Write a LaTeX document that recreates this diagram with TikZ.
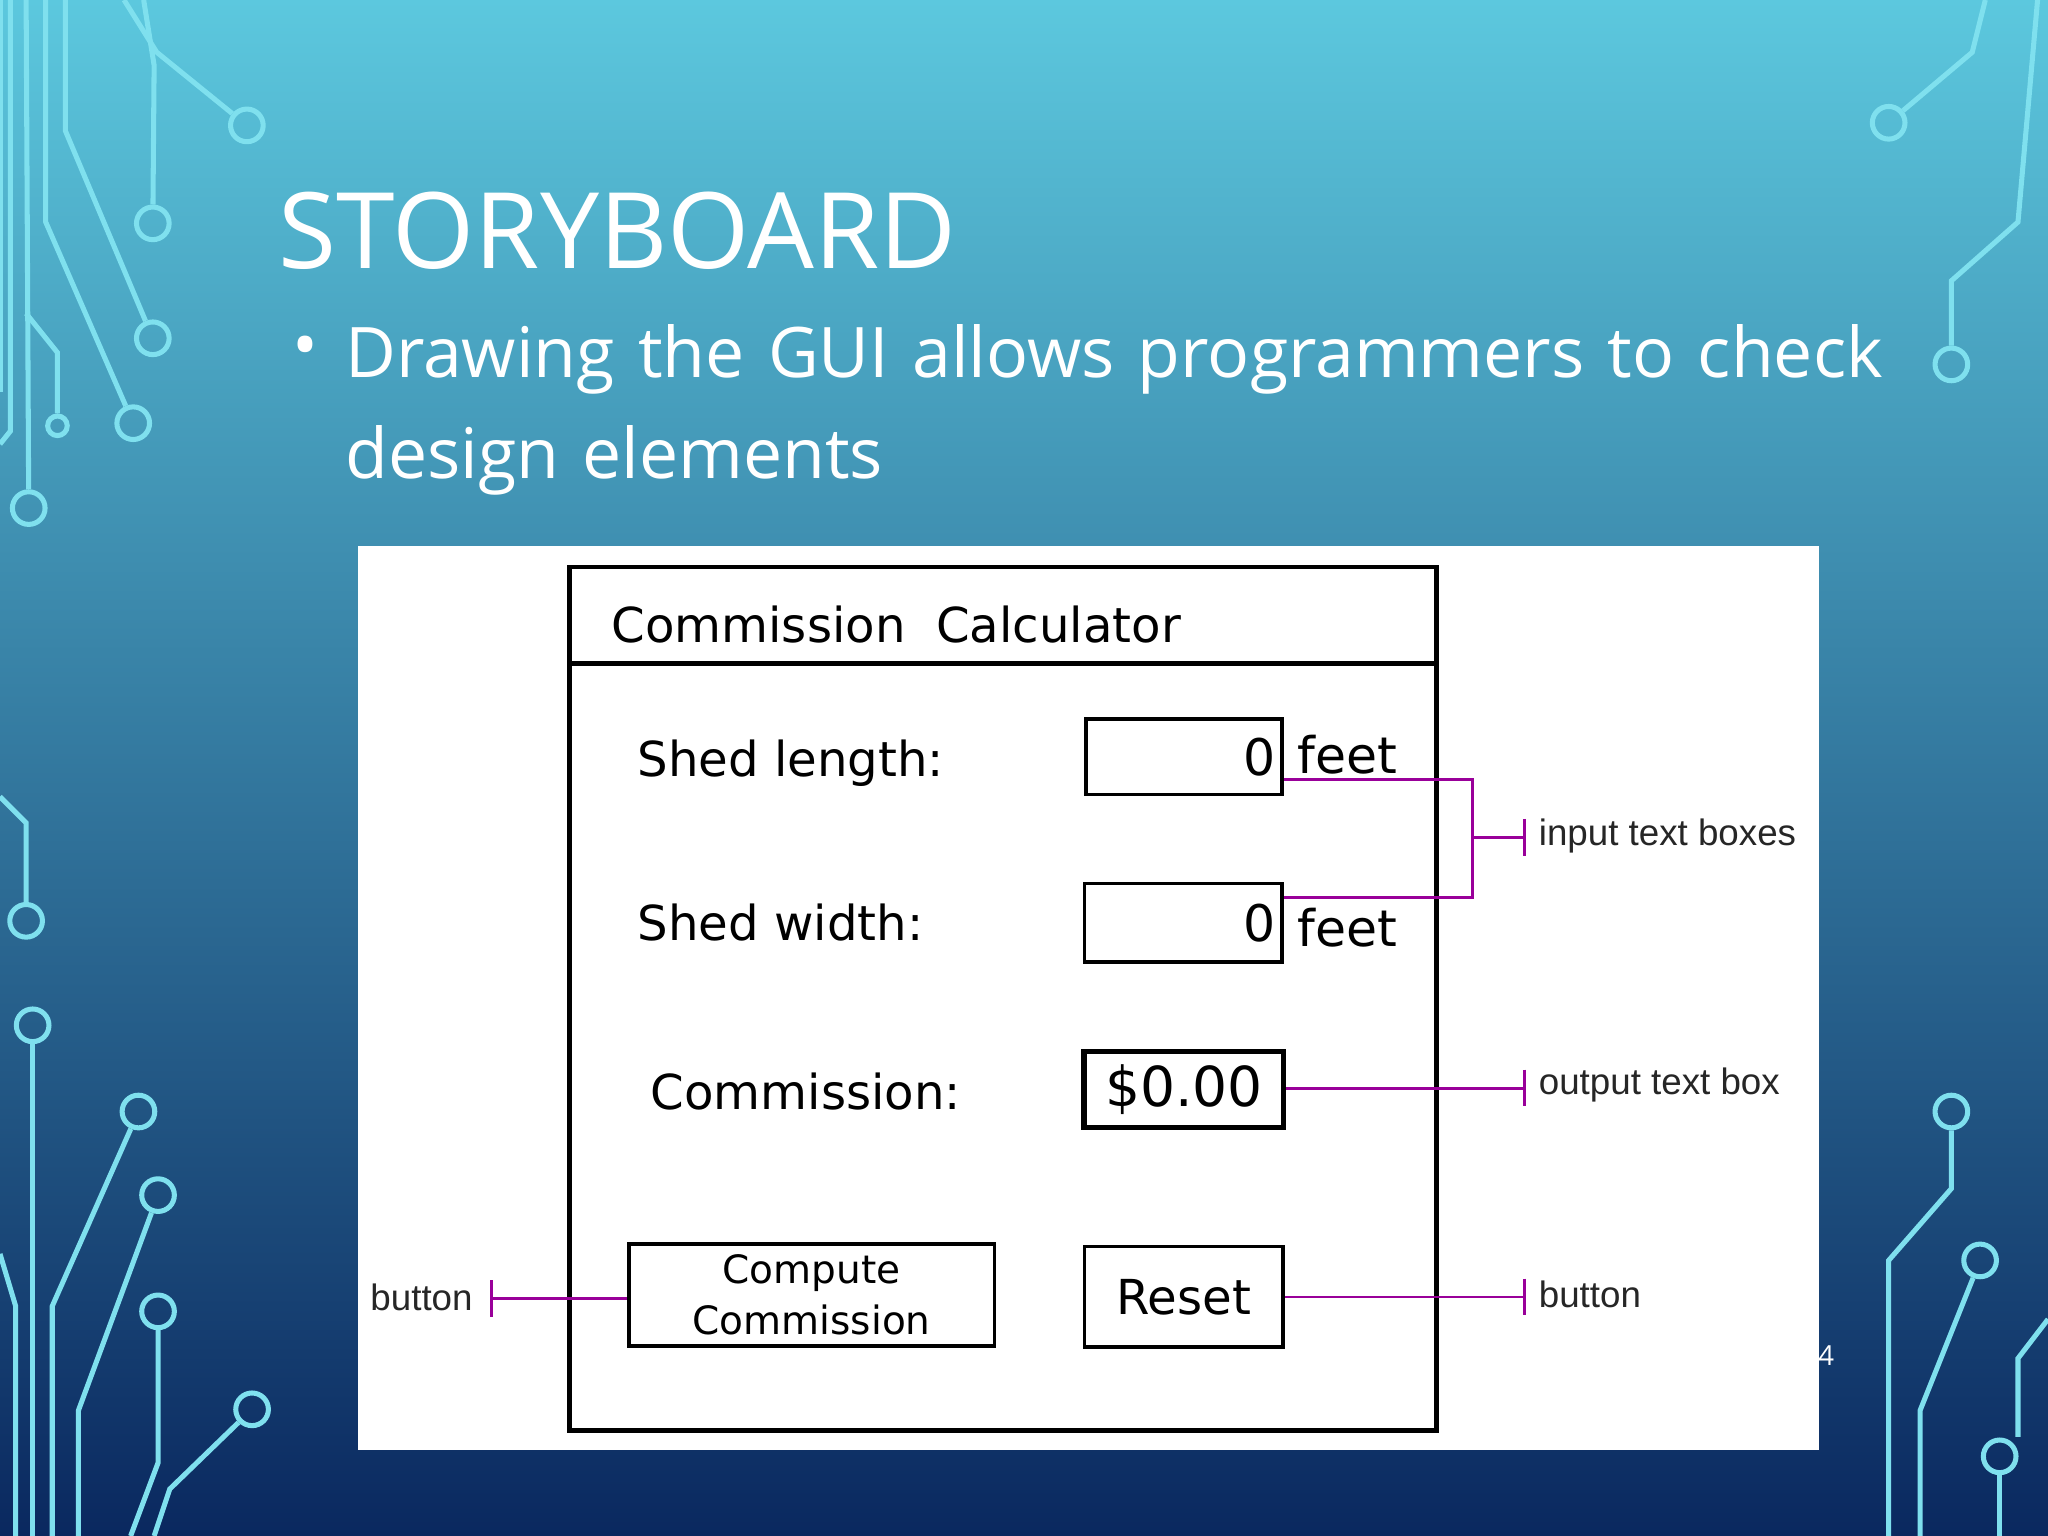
\documentclass[tikz,border=0pt]{standalone}
\usepackage{fontspec}
\setmainfont{Open Sans}
\newfontfamily\lab{Liberation Sans}
\newfontfamily\hand{DejaVu Sans}
\usetikzlibrary{calc}
\definecolor{circ}{HTML}{7FE0EE}
\definecolor{pur}{HTML}{990099}
\begin{document}
\begin{tikzpicture}[x=0.02cm,y=-0.02cm,
  circuit/.style={circ,line width=2.2pt},
  pad/.style={circle,draw=circ,line width=2.2pt,minimum size=0.5cm,inner sep=0},
  box/.style={draw,line width=1.6pt,inner sep=0},
  hw/.style={font=\hand\fontsize{21}{24}\selectfont,anchor=west},
  conn/.style={pur,line width=1.3pt},
  lbl/.style={font=\lab\fontsize{16}{18}\selectfont,text=black!85}]
\useasboundingbox (0,0) rectangle (1568,1176);
\shade[top color={rgb,255:red,92;green,200;blue,222}, middle color={rgb,255:red,25;green,145;blue,200}, bottom color={rgb,255:red,10;green,40;blue,95}] (0,0) rectangle (1568,1176);
% circuit decorations
\node[pad] (p1) at (189,96) {}; \draw[circuit] (95,0) -- (120,40) -- (p1);
\node[pad] (p2) at (117,171) {}; \draw[circuit] (110,0) -- (118,50) -- (p2);
\node[pad] (p3) at (117,259) {}; \draw[circuit] (50,0) -- (50,100) -- (p3);
\node[pad] (p4) at (102,324) {}; \draw[circuit] (35,0) -- (35,170) -- (p4);
\node[pad,minimum size=0.3cm] (p5) at (44,326) {}; \draw[circuit] (20,240) -- (44,270) -- (p5);
\node[pad] (p6) at (22,389) {}; \draw[circuit] (20,0) -- (p6);
\draw[circuit] (0,0) -- (0,300) ; \draw[circuit] (8,0)--(8,330) -- (0,340);
\node[pad] (p7) at (1446,94) {}; \draw[circuit] (1520,0) -- (1510,40) -- (p7);
\node[pad] (p8) at (1494,279) {}; \draw[circuit] (1560,0) -- (1545,170) -- (1494,215) -- (p8);
\node[pad] (p9) at (20,705) {}; \draw[circuit] (0,610) -- (20,630) -- (p9);
\node[pad] (p10) at (25,785) {}; \draw[circuit] (p10) -- (25,1176);
\node[pad] (p11) at (106,851) {}; \draw[circuit] (p11) -- (40,1000) -- (40,1176);
\node[pad] (p12) at (121,915) {}; \draw[circuit] (p12) -- (60,1080) -- (60,1176);
\node[pad] (p13) at (121,1004) {}; \draw[circuit] (p13) -- (121,1120) -- (100,1176);
\node[pad] (p14) at (193,1079) {}; \draw[circuit] (p14) -- (130,1140) -- (118,1176);
\draw[circuit] (0,960) -- (12,1000) -- (12,1176);
\node[pad] (p15) at (1494,851) {}; \draw[circuit] (p15) -- (1494,910) -- (1446,965) -- (1446,1176);
\node[pad] (p16) at (1516,965) {}; \draw[circuit] (p16) -- (1470,1080) -- (1470,1176);
\node[pad] (p17) at (1531,1115) {}; \draw[circuit] (p17) -- (1531,1176);
\draw[circuit] (1568,1010) -- (1545,1040) -- (1545,1100);
% title
\node[anchor=west,text=white,font=\fontsize{46}{50}\selectfont] (title) at (207,177) {STORYBOARD};
\node[anchor=west,text=white,font=\fontsize{30}{30}\selectfont] (bul) at (218,270) {\textbullet};
\node[anchor=north west,text=white,font=\fontsize{30.4}{44}\selectfont,text width=27cm,inner sep=0] (body) at (264,248) {Drawing the GUI allows programmers to check\\design elements};
% panel
\node[anchor=west,text=white,font=\fontsize{12}{14}\selectfont] (pg) at (1386,1038) {4};
\fill[white] (274,418) rectangle (1393,1110);
\draw[line width=2pt] (436,434) rectangle (1100,1095);
\draw[line width=2pt] (436,508) -- (1100,508);
\node[hw] (wt) at (462,478) {Commission\ \ Calculator};
\node[hw] (l1) at (482,584) {Shed length:};
\node[hw] (l2) at (482,706) {Shed width:};
\node[hw] (l3) at (492,836) {Commission:};
\node[box,minimum width=3.0cm,minimum height=1.16cm,anchor=north west] (b1) at (830,549) {};
\node[anchor=east,font=\hand\fontsize{22}{26}\selectfont] at (b1.east) {0};
\node[hw,font=\hand\fontsize{22}{26}\selectfont] (f1) at (987,578) {feet};
\node[box,minimum width=3.02cm,minimum height=1.2cm,anchor=north west] (b2) at (829,675) {};
\node[anchor=east,font=\hand\fontsize{22}{26}\selectfont] at (b2.east) {0};
\node[hw,font=\hand\fontsize{22}{26}\selectfont] (f2) at (987,710) {feet};
\node[box,line width=2.2pt,minimum width=3.06cm,minimum height=1.16cm,anchor=north west,font=\hand\fontsize{24}{28}\selectfont] (b3) at (828,803) {\$0.00};
\node[box,minimum width=5.6cm,minimum height=1.56cm,anchor=north west] (cc) at (480,951) {};
\node[font=\hand\fontsize{17}{22}\selectfont,align=center] at (cc) {Compute\\Commission};
\node[box,minimum width=3.04cm,minimum height=1.54cm,anchor=north west,font=\hand\fontsize{21}{24}\selectfont] (rs) at (829,953) {Reset};
% connectors
\coordinate (j1) at (1127,597); \coordinate (j2) at (1127,687); \coordinate (jm) at (1127,641);
\coordinate (t1) at (1167,641); \coordinate (t2) at (1167,833); \coordinate (t3) at (1167,993); \coordinate (t4) at (376,994);
\draw[conn] (b1.east|-j1) -- (j1) -- (j2) -- (b2.east|-j2);
\draw[conn] (jm) -- (t1); \draw[conn] ($(t1)+(0,-14)$) -- ($(t1)+(0,14)$);
\draw[conn] (b3.east|-t2) -- (t2); \draw[conn] ($(t2)+(0,-14)$) -- ($(t2)+(0,14)$);
\draw[conn] (rs.east|-t3) -- (t3); \draw[conn] ($(t3)+(0,-14)$) -- ($(t3)+(0,14)$);
\draw[conn] (cc.west|-t4) -- (t4); \draw[conn] ($(t4)+(0,-14)$) -- ($(t4)+(0,14)$);
\node[lbl,anchor=west] (a1) at (1172,640) {input text boxes};
\node[lbl,anchor=west] (a2) at (1172,831) {output text box};
\node[lbl,anchor=west] (a3) at (1172,991) {button};
\node[lbl,anchor=east] (a4) at (368,993) {button};
\end{tikzpicture}
\end{document}
